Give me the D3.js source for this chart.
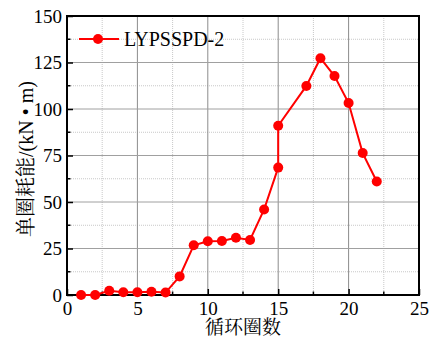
<!DOCTYPE html>
<html>
<head>
<meta charset="UTF-8">
<script src="https://d3js.org/d3.v7.min.js"></script>
<style>
  body { margin: 0; background: #fff; }
  svg { display: block; }
</style>
</head>
<body>
<svg id="chart"></svg>
<script>
// cycle number and energy per cycle
let cycles = [1, 2, 3, 4, 5, 6, 7, 8, 9, 10, 11, 12, 13, 14, 15, 15, 17, 18, 19, 20, 21, 22]
let energy = [0, 0, 2.3, 1.5, 1.5, 1.7, 1.3, 10, 26.7, 28.9, 29, 30.8, 29.6, 46, 68.5, 91, 112.4, 127.3, 117.7, 103.2, 76.3, 61]
let xTicks = [0, 5, 10, 15, 20, 25]
let yTicks = [0, 25, 50, 75, 100, 125, 150]
let seriesName = 'LYPSSPD-2'

let width = 432
let height = 339
let margin = { left: 67, right: 13, top: 16, bottom: 44 }
let serif = "'Liberation Serif', 'Times New Roman', serif"
let cjk = "'Liberation Serif', 'Noto Serif CJK SC', serif"

let svg = d3.select('#chart').attr('width', width).attr('height', height)

let xScale = d3.scaleLinear().domain([0, 25]).range([margin.left, width - margin.right])
let yScale = d3.scaleLinear().domain([0, 150]).range([height - margin.bottom, margin.top])

let values = cycles.map((c, i) => ({ x: c, y: energy[i] }))

// minor grid (dotted)
let xMinor = d3.range(2.5, 25, 5)
let yMinor = d3.range(12.5, 150, 25)
svg.append('g').selectAll('line').data(xMinor).enter().append('line')
  .attr('x1', d => xScale(d)).attr('x2', d => xScale(d))
  .attr('y1', yScale(0)).attr('y2', yScale(150))
  .attr('stroke', '#c8c8c8').attr('stroke-width', 1).attr('stroke-dasharray', '1,1')
svg.append('g').selectAll('line').data(yMinor).enter().append('line')
  .attr('y1', d => yScale(d)).attr('y2', d => yScale(d))
  .attr('x1', xScale(0)).attr('x2', xScale(25))
  .attr('stroke', '#c8c8c8').attr('stroke-width', 1).attr('stroke-dasharray', '1,1')

// major grid
svg.append('g').selectAll('line').data(xTicks.slice(1, -1)).enter().append('line')
  .attr('x1', d => xScale(d)).attr('x2', d => xScale(d))
  .attr('y1', yScale(0)).attr('y2', yScale(150))
  .attr('stroke', '#8c8c8c').attr('stroke-width', 1)
svg.append('g').selectAll('line').data(yTicks.slice(1, -1)).enter().append('line')
  .attr('y1', d => yScale(d)).attr('y2', d => yScale(d))
  .attr('x1', xScale(0)).attr('x2', xScale(25))
  .attr('stroke', '#a0a0a0').attr('stroke-width', 1)

// axes
let xAxis = d3.axisBottom(xScale).tickValues(xTicks).tickSizeInner(-6).tickSizeOuter(0).tickPadding(6.5)
let yAxis = d3.axisLeft(yScale).tickValues(yTicks).tickSizeInner(-6).tickSizeOuter(0).tickPadding(5)

svg.append('g').attr('transform', 'translate(0,' + yScale(0) + ')').call(xAxis)
  .attr('font-family', serif).attr('font-size', 19)
  .call(g => g.select('.domain').remove())
  .call(g => g.selectAll('.tick line').attr('stroke-width', 1.5))
  .call(g => g.selectAll('.tick text').style('font-family', serif).attr('fill', '#000'))
svg.append('g').attr('transform', 'translate(' + xScale(0) + ',0)').call(yAxis)
  .attr('font-family', serif).attr('font-size', 19)
  .call(g => g.select('.domain').remove())
  .call(g => g.selectAll('.tick line').attr('stroke-width', 1.5))
  .call(g => g.selectAll('.tick text').style('font-family', serif).attr('fill', '#000'))

// minor ticks
svg.append('g').selectAll('line').data(xMinor).enter().append('line')
  .attr('x1', d => xScale(d)).attr('x2', d => xScale(d))
  .attr('y1', yScale(0)).attr('y2', yScale(0) - 3.5)
  .attr('stroke', '#000').attr('stroke-width', 1.5)
svg.append('g').selectAll('line').data(yMinor).enter().append('line')
  .attr('y1', d => yScale(d)).attr('y2', d => yScale(d))
  .attr('x1', xScale(0)).attr('x2', xScale(0) + 3.5)
  .attr('stroke', '#000').attr('stroke-width', 1.5)

// frame
svg.append('rect')
  .attr('x', xScale(0)).attr('y', yScale(150))
  .attr('width', xScale(25) - xScale(0)).attr('height', yScale(0) - yScale(150))
  .attr('fill', 'none').attr('stroke', '#000').attr('stroke-width', 2)

// series
let line = d3.line().x(d => xScale(d.x)).y(d => yScale(d.y))
svg.append('path').datum(values)
  .attr('d', line).attr('fill', 'none').attr('stroke', '#ff0000').attr('stroke-width', 2)
svg.append('g').selectAll('circle').data(values).enter().append('circle')
  .attr('cx', d => xScale(d.x)).attr('cy', d => yScale(d.y)).attr('r', 5)
  .attr('fill', '#ff0000')

// legend
let legend = svg.append('g').attr('transform', 'translate(79,39)')
legend.append('line').attr('x1', 0).attr('x2', 40).attr('y1', 0).attr('y2', 0)
  .attr('stroke', '#ff0000').attr('stroke-width', 2)
legend.append('circle').attr('cx', 19).attr('cy', 0).attr('r', 5).attr('fill', '#ff0000')
legend.append('text').attr('x', 45).attr('y', 7)
  .style('font-family', serif).attr('font-size', 20)
  .text(seriesName)

// axis titles
svg.append('text')
  .attr('x', 243).attr('y', 334)
  .attr('text-anchor', 'middle')
  .style('font-family', cjk).attr('font-size', 19)
  .text('循环圈数')
svg.append('text')
  .attr('transform', 'translate(33,' + 159 + ') rotate(-90)')
  .attr('text-anchor', 'middle')
  .style('font-family', cjk).attr('font-size', 20)
  .text('单圈耗能/(kN • m)')
</script>
</body>
</html>
